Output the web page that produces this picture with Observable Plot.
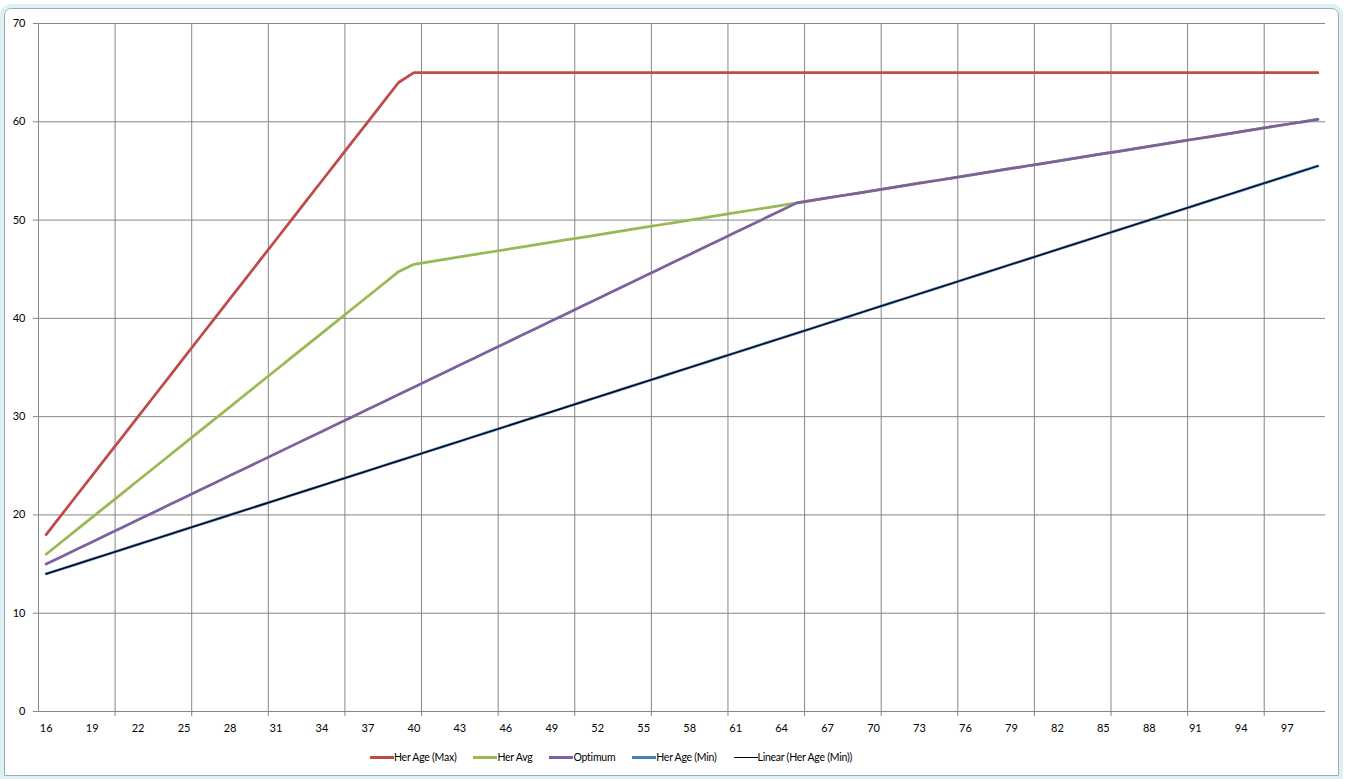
<!DOCTYPE html>
<html>
<head>
<meta charset="utf-8">
<script src="https://cdn.jsdelivr.net/npm/d3@7"></script>
<script src="https://cdn.jsdelivr.net/npm/@observablehq/plot@0.6"></script>
<style>
  body { margin: 0; background: #fff; font-family: Lato, "Noto Sans", sans-serif; }
  #frame {
    position: absolute; left: 4px; top: 8px; width: 1333px; height: 766px;
    border: 1px solid #a3adb1; border-radius: 7px 7px 0 0;
    box-shadow: 0 0 0 4px #dcf0f6;
  }
  #chart { position: absolute; left: 0; top: 0; }
  .legend {
    position: absolute; left: 370px; top: 745px; height: 24px;
    display: flex; align-items: center; gap: 17px; font-size: 10.5px;
    letter-spacing: -0.25px; color: #000;
  }
  .legend .item { display: flex; align-items: center; }
  .legend .swatch { display: inline-block; width: 24px; }
</style>
</head>
<body>
<div id="frame"></div>
<div id="chart"></div>
<script>
// ages on the category axis
const ages = [16, 17, 18, 19, 20, 21, 22, 23, 24, 25, 26, 27, 28, 29, 30, 31, 32, 33, 34, 35,
  36, 37, 38, 39, 40, 41, 42, 43, 44, 45, 46, 47, 48, 49, 50, 51, 52, 53, 54, 55,
  56, 57, 58, 59, 60, 61, 62, 63, 64, 65, 66, 67, 68, 69, 70, 71, 72, 73, 74, 75,
  76, 77, 78, 79, 80, 81, 82, 83, 84, 85, 86, 87, 88, 89, 90, 91, 92, 93, 94, 95,
  96, 97, 98, 99];

const herMax = [18, 20, 22, 24, 26, 28, 30, 32, 34, 36, 38, 40, 42, 44, 46, 48, 50, 52, 54, 56,
  58, 60, 62, 64, 65, 65, 65, 65, 65, 65, 65, 65, 65, 65, 65, 65, 65, 65, 65, 65,
  65, 65, 65, 65, 65, 65, 65, 65, 65, 65, 65, 65, 65, 65, 65, 65, 65, 65, 65, 65,
  65, 65, 65, 65, 65, 65, 65, 65, 65, 65, 65, 65, 65, 65, 65, 65, 65, 65, 65, 65,
  65, 65, 65, 65];

const herAvg = [16, 17.25, 18.5, 19.75, 21, 22.25, 23.5, 24.75, 26, 27.25, 28.5, 29.75, 31, 32.25,
  33.5, 34.75, 36, 37.25, 38.5, 39.75, 41, 42.25, 43.5, 44.75, 45.5, 45.75, 46, 46.25, 46.5,
  46.75, 47, 47.25, 47.5, 47.75, 48, 48.25, 48.5, 48.75, 49, 49.25, 49.5, 49.75, 50, 50.25,
  50.5, 50.75, 51, 51.25, 51.5, 51.75, 52, 52.25, 52.5, 52.75, 53, 53.25, 53.5, 53.75, 54,
  54.25, 54.5, 54.75, 55, 55.25, 55.5, 55.75, 56, 56.25, 56.5, 56.75, 57, 57.25, 57.5, 57.75,
  58, 58.25, 58.5, 58.75, 59, 59.25, 59.5, 59.75, 60, 60.25];

const optimum = [15, 15.75, 16.5, 17.25, 18, 18.75, 19.5, 20.25, 21, 21.75, 22.5, 23.25, 24, 24.75,
  25.5, 26.25, 27, 27.75, 28.5, 29.25, 30, 30.75, 31.5, 32.25, 33, 33.75, 34.5, 35.25, 36,
  36.75, 37.5, 38.25, 39, 39.75, 40.5, 41.25, 42, 42.75, 43.5, 44.25, 45, 45.75, 46.5, 47.25,
  48, 48.75, 49.5, 50.25, 51, 51.75, 52, 52.25, 52.5, 52.75, 53, 53.25, 53.5, 53.75, 54,
  54.25, 54.5, 54.75, 55, 55.25, 55.5, 55.75, 56, 56.25, 56.5, 56.75, 57, 57.25, 57.5, 57.75,
  58, 58.25, 58.5, 58.75, 59, 59.25, 59.5, 59.75, 60, 60.25];

const herMin = [14, 14.5, 15, 15.5, 16, 16.5, 17, 17.5, 18, 18.5, 19, 19.5, 20, 20.5, 21, 21.5,
  22, 22.5, 23, 23.5, 24, 24.5, 25, 25.5, 26, 26.5, 27, 27.5, 28, 28.5, 29, 29.5, 30, 30.5,
  31, 31.5, 32, 32.5, 33, 33.5, 34, 34.5, 35, 35.5, 36, 36.5, 37, 37.5, 38, 38.5, 39, 39.5,
  40, 40.5, 41, 41.5, 42, 42.5, 43, 43.5, 44, 44.5, 45, 45.5, 46, 46.5, 47, 47.5, 48, 48.5,
  49, 49.5, 50, 50.5, 51, 51.5, 52, 52.5, 53, 53.5, 54, 54.5, 55, 55.5];

const xTickLabels = [16, 19, 22, 25, 28, 31, 34, 37, 40, 43, 46, 49, 52, 55, 58, 61, 64, 67, 70,
  73, 76, 79, 82, 85, 88, 91, 94, 97];
const yTicks = [0, 10, 20, 30, 40, 50, 60, 70];

const series = [
  { key: "max", name: "Her Age (Max)", color: "#be4b48" },
  { key: "avg", name: "Her Avg", color: "#98b954" },
  { key: "opt", name: "Optimum", color: "#7d60a0" },
  { key: "min", name: "Her Age (Min)", color: "#4a7ebb" }
];

const table = ages.map((a, i) => ({
  age: a, max: herMax[i], avg: herAvg[i], opt: optimum[i], min: herMin[i]
}));

// Excel draws a gridline every 5 categories, on the category boundaries
const xGrid = ages.filter((a, i) => i % 5 === 4).map(a => a + 0.5);
const xStart = ages[0] - 0.5;
const xEnd = ages[ages.length - 1] + 0.5;
const gridColor = "#868686";

const chart = Plot.plot({
  width: 1345,
  height: 745,
  marginLeft: 38,
  marginTop: 23,
  marginRight: 20,
  marginBottom: 34,
  style: { fontFamily: "Lato, 'Noto Sans', sans-serif", fontSize: "11px", color: "#000", background: "transparent" },
  x: { type: "linear", domain: [xStart, xEnd] },
  y: { domain: [0, 70] },
  marks: [
    Plot.gridY(yTicks, { stroke: gridColor, strokeOpacity: 1 }),
    Plot.gridX(xGrid, { stroke: gridColor, strokeOpacity: 1 }),
    Plot.ruleX([xStart], { stroke: gridColor }),
    Plot.ruleY([0], { stroke: gridColor }),
    Plot.axisY({ ticks: yTicks, tickSize: 5, tickPadding: 8, stroke: gridColor, fill: "#000", label: null }),
    Plot.axisX({ ticks: xGrid, tickSize: 5, stroke: gridColor, tickFormat: () => "", label: null }),
    Plot.axisX({ ticks: xTickLabels, tickSize: 0, tickPadding: 13, fill: "#000", label: null }),
    ...series.map(s => Plot.line(table, {
      x: "age", y: s.key, stroke: s.color, strokeWidth: 2.75, strokeLinejoin: "round", strokeLinecap: "round"
    })),
    Plot.linearRegressionY(table, { x: "age", y: "min", stroke: "#000", strokeWidth: 1.25, ci: 0 })
  ]
});

document.getElementById("chart").append(chart);

const legend = document.createElement("div");
legend.className = "legend";
const legendItems = series.map(s => ({ name: s.name, color: s.color, h: 3 }))
  .concat([{ name: "Linear (Her Age (Min))", color: "#000", h: 1 }]);
for (const it of legendItems) {
  const item = document.createElement("div");
  item.className = "item";
  const sw = document.createElement("span");
  sw.className = "swatch";
  sw.style.height = it.h + "px";
  sw.style.background = it.color;
  item.append(sw, document.createTextNode(it.name));
  legend.append(item);
}
document.body.append(legend);
</script>
</body>
</html>
